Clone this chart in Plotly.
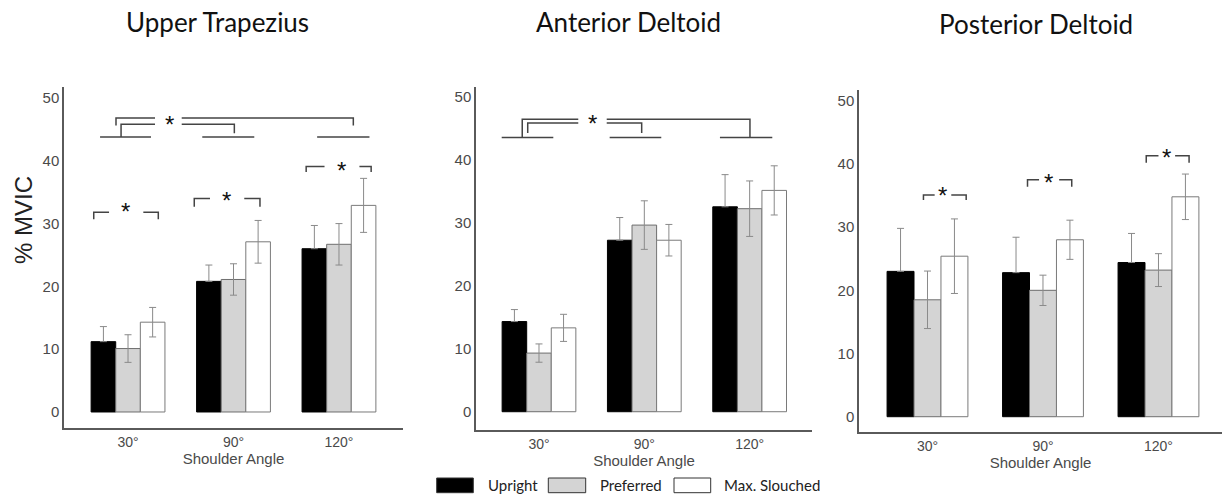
import plotly.graph_objects as go

# ---------------- data ----------------
angles = ['30°', '90°', '120°']
conditions = ['Upright', 'Preferred', 'Max. Slouched']
muscles = ['Upper Trapezius', 'Anterior Deltoid', 'Posterior Deltoid']

ut_upright = [11.2, 20.8, 26.0]
ut_upright_err = [2.4, 2.6, 3.7]
ut_preferred = [10.1, 21.1, 26.7]
ut_preferred_err = [2.2, 2.5, 3.3]
ut_slouched = [14.3, 27.1, 32.9]
ut_slouched_err = [2.35, 3.4, 4.3]

ad_upright = [14.3, 27.2, 32.5]
ad_upright_err = [1.9, 3.6, 5.1]
ad_preferred = [9.3, 29.6, 32.2]
ad_preferred_err = [1.45, 3.85, 4.4]
ad_slouched = [13.3, 27.2, 35.1]
ad_slouched_err = [2.15, 2.5, 3.9]

pd_upright = [23.0, 22.8, 24.4]
pd_upright_err = [6.8, 5.6, 4.6]
pd_preferred = [18.5, 20.0, 23.2]
pd_preferred_err = [4.55, 2.4, 2.6]
pd_slouched = [25.4, 28.0, 34.8]
pd_slouched_err = [5.9, 3.1, 3.6]

y_ticks = [0, 10, 20, 30, 40, 50]

# ---------------- styling ----------------
fills = ['#000000', '#d4d4d4', '#ffffff']
outlines = ['#000000', '#6e6e6e', '#7a7a7a']
AXIS_COL = '#5a5a5a'
TICK_COL = '#4a4a4a'
ERR_COL = '#8a8a8a'
BR_COL = '#444444'
TICK_FONT = dict(family='Liberation Sans, Arial, sans-serif', size=14, color=TICK_COL)
YTICK_FONT = dict(family='Liberation Sans, Arial, sans-serif', size=15, color=TICK_COL)
XTITLE_FONT = dict(family='Liberation Sans, Arial, sans-serif', size=15, color=TICK_COL)

panels = [
    dict(vals=[ut_upright, ut_preferred, ut_slouched],
         errs=[ut_upright_err, ut_preferred_err, ut_slouched_err],
         xdom=[64 / 1224, 403 / 1224], ydom=[(496 - 428) / 496, (496 - 87) / 496],
         xr=[-0.607, 2.607], yr=[-2.55, 51.75], title_x=217, title_y=22),
    dict(vals=[ad_upright, ad_preferred, ad_slouched],
         errs=[ad_upright_err, ad_preferred_err, ad_slouched_err],
         xdom=[476 / 1224, 812 / 1224], ydom=[(496 - 430) / 496, (496 - 87) / 496],
         xr=[-0.598, 2.592], yr=[-2.9, 51.5], title_x=628, title_y=22),
    dict(vals=[pd_upright, pd_preferred, pd_slouched],
         errs=[pd_upright_err, pd_preferred_err, pd_slouched_err],
         xdom=[859 / 1224, 1222 / 1224], ydom=[(496 - 432) / 496, (496 - 90) / 496],
         xr=[-0.593, 2.55], yr=[-2.42, 51.7], title_x=1036, title_y=24),
]

# significance brackets: polylines in (group position, % MVIC) data units
brackets = [
    [  # Upper Trapezius
        [(-0.265, 43.8), (0.218, 43.8)],
        [(0.704, 43.8), (1.197, 43.8)],
        [(1.793, 43.8), (2.289, 43.8)],
        [(-0.114, 45.6), (-0.114, 46.8), (0.256, 46.8)],
        [(0.509, 46.8), (2.136, 46.8), (2.136, 45.6)],
        [(-0.066, 43.8), (-0.066, 45.8), (0.256, 45.8)],
        [(0.509, 45.8), (1.008, 45.8), (1.008, 44.4)],
        [(-0.325, 30.7), (-0.325, 31.8), (-0.18, 31.8)],
        [(0.145, 31.8), (0.287, 31.8), (0.287, 30.7)],
        [(0.628, 32.7), (0.628, 34.0), (0.777, 34.0)],
        [(1.102, 34.0), (1.251, 34.0), (1.251, 32.7)],
        [(1.689, 38.2), (1.689, 39.1), (1.863, 39.1)],
        [(2.194, 39.1), (2.305, 39.1), (2.305, 38.2)],
    ],
    [  # Anterior Deltoid
        [(-0.354, 43.5), (0.136, 43.5)],
        [(0.671, 43.5), (1.161, 43.5)],
        [(1.718, 43.5), (2.215, 43.5)],
        [(-0.159, 43.5), (-0.159, 46.4), (0.373, 46.4)],
        [(0.643, 46.4), (2.003, 46.4), (2.003, 43.5)],
        [(-0.107, 44.2), (-0.107, 45.8), (0.373, 45.8)],
        [(0.643, 45.8), (0.975, 45.8), (0.975, 44.2)],
    ],
    [  # Posterior Deltoid
        [(-0.035, 34.3), (-0.035, 35.1), (0.062, 35.1)],
        [(0.206, 35.1), (0.335, 35.1), (0.335, 34.3)],
        [(0.866, 36.4), (0.866, 37.5), (0.966, 37.5)],
        [(1.14, 37.5), (1.249, 37.5), (1.249, 36.4)],
        [(1.894, 40.2), (1.894, 41.3), (2.0, 41.3)],
        [(2.144, 41.3), (2.265, 41.3), (2.265, 40.2)],
    ],
]
stars = [
    [(0.389, 46.8), (-0.02, 32.9), (0.936, 34.7), (2.027, 39.4)],
    [(0.509, 46.7)],
    [(0.134, 35.9), (1.047, 38.0), (2.068, 42.0)],
]

fig = go.Figure()
shapes = []
annotations = []
xpos = [0, 1, 2]

for i, p in enumerate(panels):
    sfx = '' if i == 0 else str(i + 1)
    xref, yref = 'x' + sfx, 'y' + sfx
    for j, cond in enumerate(conditions):
        err = p['errs'][j]
        fig.add_trace(go.Bar(
            x=xpos, y=p['vals'][j], name=cond, showlegend=False,
            xaxis=xref, yaxis=yref,
            marker=dict(color=fills[j], line=dict(color=outlines[j], width=1)),
            error_y=dict(type='data', array=err, symmetric=False,
                         arrayminus=[0] * len(err) if j == 0 else err,
                         color=ERR_COL, thickness=1, width=3.5),
        ))
    fig.layout['xaxis' + sfx] = dict(
        domain=p['xdom'], range=p['xr'], anchor=yref,
        tickvals=xpos, ticktext=angles, showline=True, linecolor=AXIS_COL,
        linewidth=1.5, showgrid=False, zeroline=False, ticks='',
        tickfont=TICK_FONT,
        title=dict(text='Shoulder Angle', font=XTITLE_FONT, standoff=0),
    )
    fig.layout['yaxis' + sfx] = dict(
        domain=p['ydom'], range=p['yr'], anchor=xref,
        tickvals=y_ticks, showline=True, linecolor=AXIS_COL, linewidth=1.5,
        showgrid=False, zeroline=False, ticks='', tickfont=YTICK_FONT,
    )
    for line in brackets[i]:
        path = 'M ' + ' L '.join(f'{x},{y}' for x, y in line)
        shapes.append(dict(type='path', path=path, xref=xref, yref=yref,
                           line=dict(color=BR_COL, width=1.5)))
    for sx, sy in stars[i]:
        annotations.append(dict(x=sx, y=sy, xref=xref, yref=yref, text='*',
                                xanchor='center', yanchor='middle',
                                showarrow=False, yshift=-6,
                                font=dict(family='Liberation Sans, Arial', size=24, color='#111111')))
    annotations.append(dict(x=p['title_x'] / 1224, y=1 - p['title_y'] / 496,
                            xref='paper', yref='paper', xanchor='center', yanchor='middle',
                            text=muscles[i], showarrow=False,
                            font=dict(family='Lato, sans-serif', size=26, color='#111111')))

# y-axis title
annotations.append(dict(x=23 / 1224, y=1 - 220 / 496, xref='paper', yref='paper',
                        xanchor='center', yanchor='middle',
                        text='% MVIC', textangle=-90, showarrow=False,
                        font=dict(family='Liberation Sans, Arial', size=24, color='#222222')))

# legend drawn as boxes + labels
leg_boxes = [(436.7, 473.3), (548.3, 585.7), (674.0, 710.7)]
leg_text_x = [485.7, 598.3, 721.7]
for j, cond in enumerate(conditions):
    x0, x1 = leg_boxes[j]
    shapes.append(dict(type='rect', xref='paper', yref='paper',
                       x0=x0 / 1224, x1=x1 / 1224, y0=1 - 492.7 / 496, y1=1 - 478 / 496,
                       fillcolor=fills[j], line=dict(color='#333333', width=1)))
    annotations.append(dict(x=leg_text_x[j] / 1224, y=1 - 485 / 496, xref='paper', yref='paper',
                            xanchor='left', yanchor='middle', text=cond, showarrow=False,
                            font=dict(family='Lato, sans-serif', size=15, color='#222222')))

fig.update_layout(
    width=1224, height=496, margin=dict(l=0, r=0, t=0, b=0),
    paper_bgcolor='white', plot_bgcolor='white',
    barmode='group', bargap=0.3, bargroupgap=0,
    shapes=shapes, annotations=annotations, showlegend=False,
)

fig.write_html('out.html', config={'displayModeBar': False},
               post_script="document.body.style.margin='0';")
